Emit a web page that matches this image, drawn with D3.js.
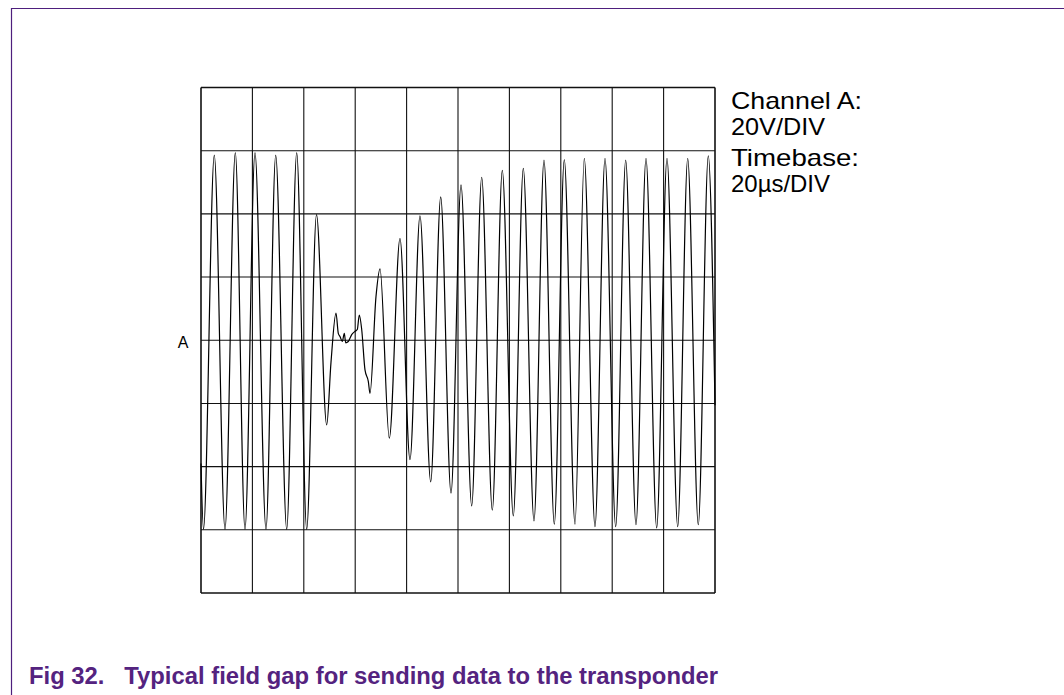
<!DOCTYPE html>
<html lang="en">
    <head>
        <title>Field gap</title>
        <meta charset="utf-8">
        <script src="https://cdn.jsdelivr.net/npm/d3@7"></script>
        <style>
            body { margin: 0; background: #fff; }
            svg text { font-family: "Liberation Sans", Arial, sans-serif; }
        </style>
    </head>
    <body>
        <div id="chart"></div>
        <script>

            // trace: time in µs, level in V
            var timeUs = [0, 0.97, 5.17, 9.34, 13.35, 17.12, 21.01, 25.29, 29.07, 33.35, 37.24, 41.13,
                          44.94, 48.91, 50.58, 52.53, 53.42, 54.08, 54.98, 55.76, 56.30, 57.31, 58.64,
                          59.92, 60.82, 61.59, 62.53, 63.81, 65.10, 65.76, 68.09, 69.65, 73.27, 77.43,
                          81.32, 85.21, 89.38, 93.27, 97.28, 101.17, 105.33, 109.22, 113.35, 117.24,
                          121.52, 125.41, 129.57, 133.46, 137.47, 141.36, 145.53, 149.14, 153.31,
                          157.20, 161.36, 165.25, 169.26, 173.15, 177.31, 181.32, 185.49, 189.38,
                          193.50, 197.39, 200];
            var volts = [-39, -59.8, 58.6, -59.8, 59.4, -59.8, 59.4, -59.8, 58.6, -59.8, 59.4, -59.8,
                         39.8, -26.8, -7, 8.6, 2.2, 1.2, -0.4, 2.2, -0.8, -0.4, 1.8,
                         2.8, 3.4, 8, 3.4, -9.4, -13, -16.8, 13.8, 22.6, -31, 32.2,
                         -37.8, 39.4, -44.8, 45.4, -48.4, 49.2, -52.4, 51.6, -53.8, 53.8,
                         -55.6, 54.4, -57.2, 57, -58.2, 57.2, -58.2, 57.6, -59,
                         57.6, -59, 57, -58.4, 57.6, -59.4, 57.6, -59, 57.6,
                         -58.4, 58.4, -20.6];

            // graticule: 10 divisions of 20 µs, 8 divisions of 20 V
            var timeTicks = [0, 20, 40, 60, 80, 100, 120, 140, 160, 180, 200];
            var voltTicks = [-80, -60, -40, -20, 0, 20, 40, 60, 80];

            var labels = ["Channel A:", "20V/DIV", "Timebase:", "20\u00b5s/DIV"];
            var caption = "Fig 32.\u00a0\u00a0\u00a0Typical field gap for sending data to the transponder";

            var W = 1064, H = 695;
            var svg = d3.select("#chart").append("svg")
                        .attr("width", W)
                        .attr("height", H);

            var x = d3.scaleLinear().domain([0, 200]).range([201, 715]);
            var y = d3.scaleLinear().domain([-80, 80]).range([593, 87.5]);

            // page frame (purple rules top and left)
            svg.append("line")
               .attr("x1", 11).attr("x2", W).attr("y1", 8.5).attr("y2", 8.5)
               .attr("stroke", "#4e1f7d").attr("stroke-width", 1.2);
            svg.append("line")
               .attr("x1", 11.5).attr("x2", 11.5).attr("y1", 8).attr("y2", H)
               .attr("stroke", "#4e1f7d").attr("stroke-width", 1.2);

            // grid
            svg.append("g").selectAll("line")
               .data(timeTicks)
               .enter().append("line")
               .attr("x1", function(d) { return x(d); })
               .attr("x2", function(d) { return x(d); })
               .attr("y1", y(80)).attr("y2", y(-80))
               .attr("stroke", "#111")
               .attr("stroke-width", function(d, i) { return (i == 0 || i == timeTicks.length - 1) ? 1.6 : 1.1; });

            svg.append("g").selectAll("line")
               .data(voltTicks)
               .enter().append("line")
               .attr("y1", function(d) { return y(d); })
               .attr("y2", function(d) { return y(d); })
               .attr("x1", x(0)).attr("x2", x(200))
               .attr("stroke", "#111")
               .attr("stroke-width", function(d, i) { return (i == 0 || i == voltTicks.length - 1) ? 1.6 : 1.1; });

            // the trace
            var pts = timeUs.map(function(t, i) { return [t, volts[i]]; });
            var line = d3.line()
                         .x(function(d) { return x(d[0]); })
                         .y(function(d) { return y(d[1]); })
                         .curve(d3.curveMonotoneX);

            svg.append("path")
               .datum(pts)
               .attr("d", line)
               .attr("fill", "none")
               .attr("stroke", "#000")
               .attr("stroke-width", 1.2);

            // channel marker
            svg.append("text")
               .attr("x", 183).attr("y", 348)
               .attr("text-anchor", "middle")
               .style("font-size", "16px")
               .text("A");

            // settings text at the right, squeezed to the widths in the picture
            var labelY = [109, 135, 166, 192];
            var labelW = [131, 94, 128, 99];
            svg.append("g").selectAll("text")
               .data(labels)
               .enter().append("text")
               .attr("x", 731)
               .attr("y", function(d, i) { return labelY[i]; })
               .attr("textLength", function(d, i) { return labelW[i]; })
               .attr("lengthAdjust", "spacingAndGlyphs")
               .style("font-size", "24px")
               .text(function(d) { return d; });

            // caption
            svg.append("text")
               .attr("x", 29).attr("y", 683.5)
               .attr("textLength", 689)
               .attr("lengthAdjust", "spacingAndGlyphs")
               .style("font-size", "23px")
               .style("font-weight", "bold")
               .attr("fill", "#54237f")
               .text(caption);

        </script>
    </body>
</html>
